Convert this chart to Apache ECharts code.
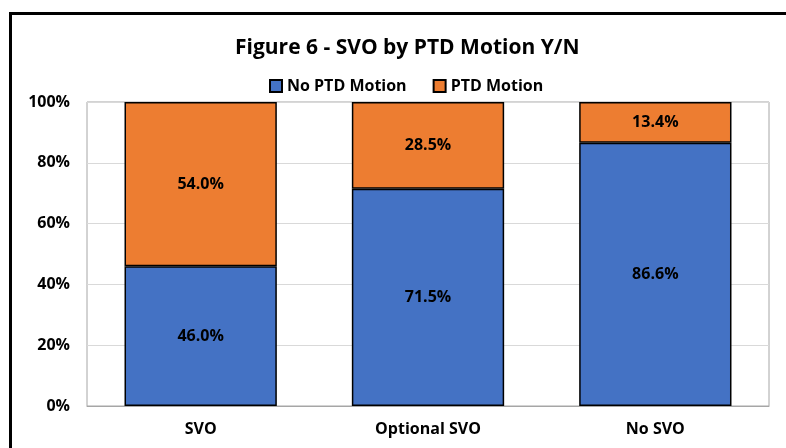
<!DOCTYPE html>
<html>
<head>
<meta charset="utf-8">
<script src="https://cdn.jsdelivr.net/npm/echarts@6/dist/echarts.min.js"></script>
<style>
    html, body { margin: 0; padding: 0; background: #fff; }
    #frame { position: absolute; left: 9px; top: 12px; width: 800px; height: 460px; border: 3px solid #000; box-sizing: border-box; }
    #chart { position: absolute; left: 0; top: 0; width: 786px; height: 448px; }
</style>
</head>
<body>
<div id="frame"></div>
<div id="chart"></div>
<script>
    const categories = ['SVO', 'Optional SVO', 'No SVO'];
    const noPtdMotion = [46.0, 71.5, 86.6];
    const ptdMotion = [54.0, 28.5, 13.4];
    const yTicks = [0, 20, 40, 60, 80, 100];

    const font = '"Open Sans", "Noto Sans", sans-serif';
    let myChart = echarts.init(document.getElementById('chart'));

    // segment labels
    let labelStyle = {
        show: true,
        position: 'inside',
        color: '#000',
        fontWeight: 'bold',
        fontSize: 16,
        fontFamily: font,
        formatter: p => p.value.toFixed(1) + '%'
    };

    myChart.setOption({
        animation: false,
        title: {
            text: 'Figure 6 - SVO by PTD Motion Y/N',
            left: 230,
            top: 33,
            textStyle: { fontSize: 21, fontWeight: 'bold', color: '#000', fontFamily: font }
        },
        legend: {
            top: 73,
            left: 264,
            icon: 'rect',
            itemWidth: 12,
            itemHeight: 12,
            itemGap: 26,
            textStyle: { fontSize: 16, fontWeight: 'bold', color: '#000', fontFamily: font },
            data: ['No PTD Motion', 'PTD Motion']
        },
        grid: {
            left: 87, right: 17, top: 102, bottom: 42,
            show: true,
            borderColor: '#a6a6a6',
            borderWidth: 1
        },
        xAxis: {
            type: 'category',
            data: categories,
            axisLine: { lineStyle: { color: '#a6a6a6' } },
            axisTick: { show: false },
            axisLabel: { fontSize: 16, fontWeight: 'bold', color: '#000', fontFamily: font, margin: 15 }
        },
        yAxis: {
            type: 'value',
            min: yTicks[0],
            max: yTicks[yTicks.length - 1],
            interval: 20,
            axisLine: { show: false },
            axisTick: { show: false },
            splitLine: { lineStyle: { color: '#d9d9d9' } },
            axisLabel: { fontSize: 16, fontWeight: 'bold', color: '#000', fontFamily: font, margin: 17, formatter: '{value}%' }
        },
        series: [
            {
                name: 'No PTD Motion',
                type: 'bar',
                stack: 'total',
                barWidth: '67%',
                data: noPtdMotion,
                itemStyle: { color: '#4472C4', borderColor: '#000', borderWidth: 1.5 },
                label: labelStyle
            },
            {
                name: 'PTD Motion',
                type: 'bar',
                stack: 'total',
                barWidth: '67%',
                data: ptdMotion,
                itemStyle: { color: '#ED7D31', borderColor: '#000', borderWidth: 1.5 },
                label: labelStyle
            }
        ]
    });
</script>
</body>
</html>
